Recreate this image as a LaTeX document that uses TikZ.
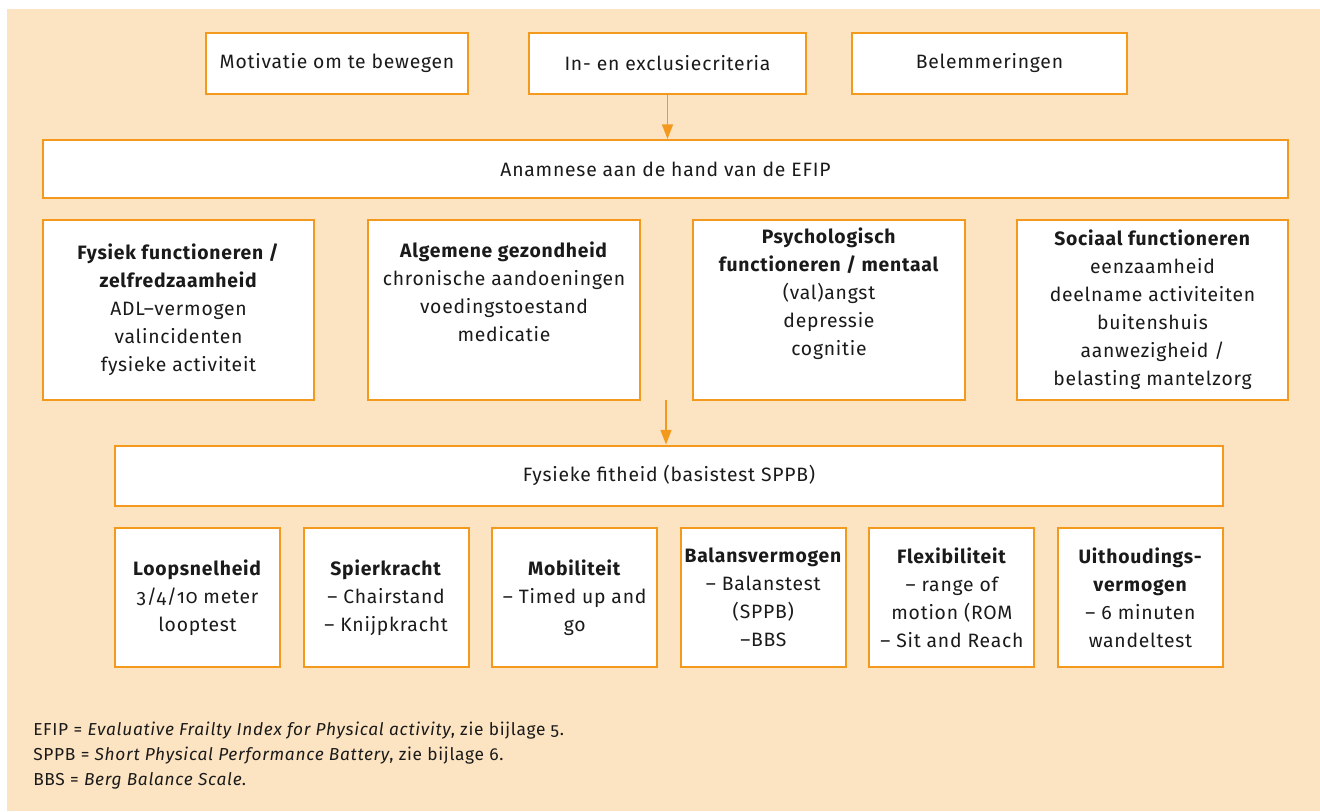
\documentclass[tikz,border=0pt]{standalone}
\usepackage{fontspec}
\setmainfont{Fira Sans}[Numbers=OldStyle, LetterSpace=4]
\usetikzlibrary{arrows.meta}
\definecolor{bg}{HTML}{FCE4C2}
\definecolor{org}{HTML}{F39A1E}
\definecolor{ink}{HTML}{1A1A1A}
\tikzset{
  box/.style={draw=org, line width=1.5pt, fill=white, inner sep=0pt, align=center,
    text=ink, font=\fontsize{14.5}{21}\selectfont},
  sz/.style 2 args={minimum width=#1*0.75pt, minimum height=#2*0.75pt},
  arr/.style={draw=org, line width=1.3pt, -{Triangle[width=8.25pt,length=11pt]}},
  note/.style={anchor=west, inner sep=0pt, text=ink, font=\fontsize{13}{15}\selectfont}
}
\begin{document}
\begin{tikzpicture}[x=0.75pt,y=-0.75pt]
\useasboundingbox (0,0) rectangle (1320,811);
\fill[bg] (7,9) rectangle (1320,811);

% top row
\node[box, sz={262}{61}] (m1) at (337,63.5) {Motivatie om te bewegen};
\node[box, sz={277}{61}] (m2) at (667.5,63.5) {In- en exclusiecriteria};
\node[box, sz={275}{61}] (m3) at (989.5,63.5) {Belemmeringen};

% anamnese
\node[box, sz={1245}{58}] (an) at (665.5,169) {Anamnese aan de hand van de EFIP};

% categories
\node[box, sz={271}{180}] (c1) at (178.5,310) {\textbf{Fysiek functioneren /}\\\textbf{zelfredzaamheid}\\ADL–vermogen\\valincidenten\\fysieke activiteit};
\node[box, sz={272}{180}] (c2) at (504,310) {\textbf{Algemene gezondheid}\\chronische aandoeningen\\voedingstoestand\\medicatie\\\strut};
\node[box, sz={272}{180}] (c3) at (829,310) {\textbf{Psychologisch}\\\textbf{functioneren / mentaal}\\(val)angst\\depressie\\cognitie\\\strut};
\node[box, sz={271}{180}] (c4) at (1152.5,310) {\textbf{Sociaal functioneren}\\eenzaamheid\\deelname activiteiten\\buitenshuis\\aanwezigheid /\\belasting mantelzorg};

% fitheid
\node[box, sz={1108}{60}] (fit) at (669,475.5) {Fysieke fitheid (basistest SPPB)};

% bottom row
\node[box, sz={165}{139}] (b1) at (197.5,597.5) {\textbf{Loopsnelheid}\\3/4/10 meter\\looptest};
\node[box, sz={165}{139}] (b2) at (386.1,597.5) {\textbf{Spierkracht}\\– Chairstand\\– Knijpkracht};
\node[box, sz={165}{139}] (b3) at (574.7,597.5) {\textbf{Mobiliteit}\\– Timed up and\\go};
\node[box, sz={165}{139}] (b4) at (763.3,597.5) {\textbf{Balansvermogen}\\– Balanstest\\(SPPB)\\–BBS};
\node[box, sz={165}{139}] (b5) at (951.9,597.5) {\textbf{Flexibiliteit}\\– range of\\motion (ROM\\– Sit and Reach};
\node[box, sz={165}{139}] (b6) at (1140.5,597.5) {\textbf{Uithoudings-}\\\textbf{vermogen}\\– 6 minuten\\wandeltest};

% arrows
\draw[arr] (m2.south) -- (m2.south |- an.north);
\coordinate (a2) at (666,400);
\draw[arr] (a2) -- (a2 |- fit.north);

% notes
\node[note] (n1) at (33,731) {EFIP = \textit{Evaluative Frailty Index for Physical activity}, zie bijlage 5.};
\node[note] (n2) at (33,756) {SPPB = \textit{Short Physical Performance Battery}, zie bijlage 6.};
\node[note] (n3) at (33,781) {BBS = \textit{Berg Balance Scale}.};
\end{tikzpicture}
\end{document}
